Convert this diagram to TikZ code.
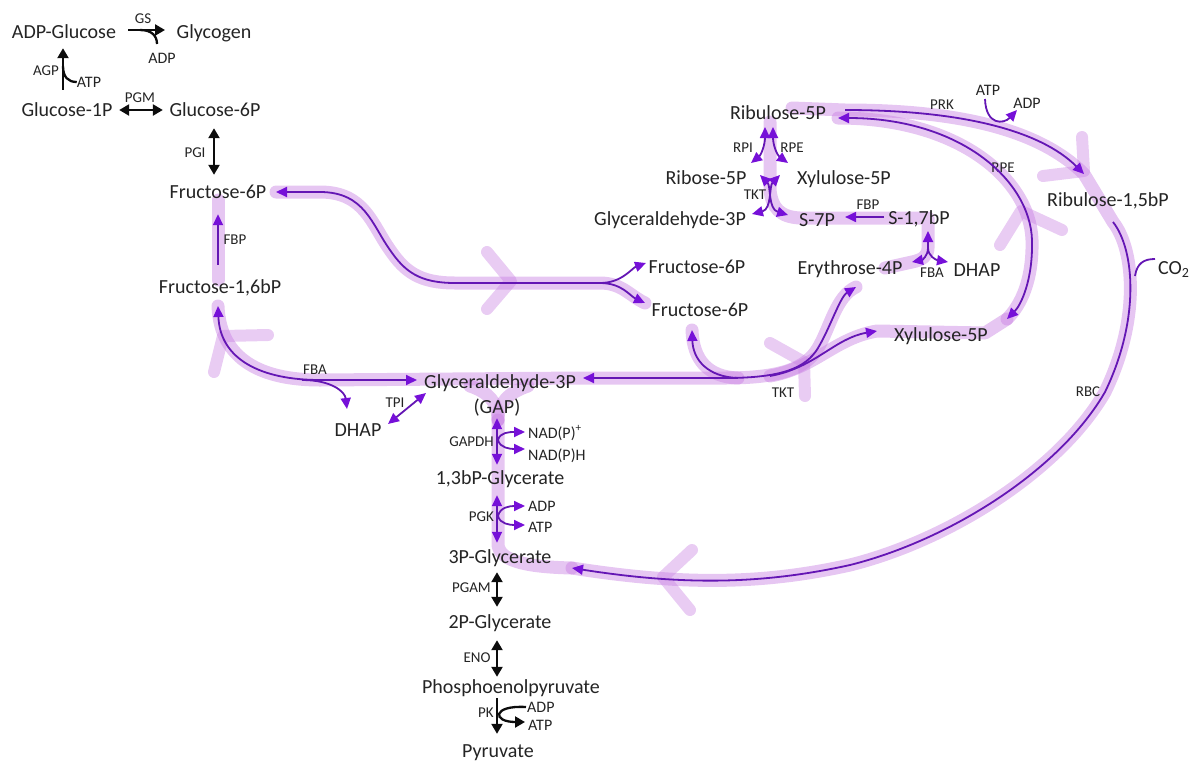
\documentclass[tikz,border=0pt]{standalone}
\usepackage{fontspec}
\setmainfont{Carlito}
\usetikzlibrary{arrows.meta,calc}
\pgfdeclarelayer{background}
\pgfsetlayers{background,main}
\definecolor{vio}{RGB}{100,22,180}
\definecolor{viotip}{RGB}{118,16,216}
\definecolor{glowc}{RGB}{200,128,226}
\definecolor{ink}{RGB}{36,36,36}
\definecolor{blk}{RGB}{12,12,12}
\tikzset{
  met/.style={font=\fontsize{20}{22}\selectfont, text=ink, inner sep=1pt, text height=13pt, text depth=0pt},
  enz/.style={font=\fontsize{15}{17}\selectfont, text=ink, inner sep=0pt, text height=9.7pt, text depth=0pt},
  cof/.style={font=\fontsize{16}{18}\selectfont, text=ink, inner sep=0pt, text height=10.3pt, text depth=0pt},
  vt/.tip={Triangle[length=11pt,width=10pt,color=viotip]},
  bt/.tip={Triangle[length=10pt,width=11pt,color=blk]},
  vl/.style={draw=vio, line width=1.8pt},
  bl/.style={draw=blk, line width=2.3pt},
  glow/.style={draw=glowc, line width=13pt, line cap=round, line join=round, opacity=0.45},
  chev/.style={draw=glowc, line width=12pt, line cap=round, line join=round, opacity=0.4},
}
\begin{document}
\begin{tikzpicture}[x=1pt,y=-1pt]
\path[use as bounding box] (0,0) rectangle (1196,761);

% ---------- metabolites ----------
\node[met] (adpg)  at (64,32)   {ADP-Glucose};
\node[met] (glyco) at (214,32)  {Glycogen};
\node[met] (g1p)   at (67,110)  {Glucose-1P};
\node[met] (g6p)   at (215,110) {Glucose-6P};
\node[met] (f6pa)  at (218,192) {Fructose-6P};
\node[met] (fbp)   at (220,287) {Fructose-1,6bP};
\node[met] (gap)   at (500,382) {Glyceraldehyde-3P};
\node[met] (gapb)  at (497,407) {(GAP)};
\node[met] (dhapa) at (358,430) {DHAP};
\node[met] (bpg)   at (500,478) {1,3bP-Glycerate};
\node[met] (tpg)   at (500,557) {3P-Glycerate};
\node[met] (twopg) at (500,622) {2P-Glycerate};
\node[met] (pep)   at (511,687) {Phosphoenolpyruvate};
\node[met] (pyr)   at (498,751) {Pyruvate};
\node[met] (ru5p)  at (778,113) {Ribulose-5P};
\node[met] (r5p)   at (706,178) {Ribose-5P};
\node[met] (xu5pa) at (844,178) {Xylulose-5P};
\node[met] (gapc)  at (670,219) {Glyceraldehyde-3P};
\node[met] (s7p)   at (817,220) {S-7P};
\node[met] (sbp)   at (919,218) {S-1,7bP};
\node[met] (f6pb)  at (697,267) {Fructose-6P};
\node[met] (f6pc)  at (700,310) {Fructose-6P};
\node[met] (e4p)   at (850,268) {Erythrose-4P};
\node[met] (dhapb) at (977,270) {DHAP};
\node[met] (xu5pb) at (941,335) {Xylulose-5P};
\node[met] (rubp)  at (1108,200) {Ribulose-1,5bP};
\node[met, anchor=west] (co2) at (1157,268) {CO\textsubscript{2}};

% ---------- enzymes ----------
\node[enz] (gs)     at (143,19)  {GS};
\node[enz] (agp)    at (46,71)   {AGP};
\node[enz] (pgm)    at (140,98)  {PGM};
\node[enz] (pgi)    at (195,153) {PGI};
\node[enz] (fbpase) at (235,240) {FBP};
\node[enz] (fbaa)   at (315,370) {FBA};
\node[enz] (tpi)    at (395,403) {TPI};
\node[enz, anchor=east] (gapdh) at (494,442) {GAPDH};
\node[enz, anchor=east] (pgk)   at (494,517) {PGK};
\node[enz, anchor=east] (pgam)  at (491,588) {PGAM};
\node[enz] (eno)    at (477,658) {ENO};
\node[enz] (pk)     at (486,713) {PK};
\node[enz] (rpi)    at (743,148) {RPI};
\node[enz] (rpea)   at (792,148) {RPE};
\node[enz] (tkta)   at (755,195) {TKT};
\node[enz] (sbpase) at (868,205) {FBP};
\node[enz] (fbab)   at (932,273) {FBA};
\node[enz] (prk)    at (942,105) {PRK};
\node[enz] (rpeb)   at (1003,168) {RPE};
\node[enz] (tktb)   at (783,393) {TKT};
\node[enz] (rbc)    at (1088,392) {RBC};

% ---------- cofactors ----------
\node[cof] (adpa) at (162,58) {ADP};
\node[cof] (atpa) at (89,82)  {ATP};
\node[cof, anchor=west] (nadp)  at (528,433) {NAD(P)\textsuperscript{+}};
\node[cof, anchor=west] (nadph) at (528,455) {NAD(P)H};
\node[cof, anchor=west] (adpb)  at (528,506) {ADP};
\node[cof, anchor=west] (atpb)  at (528,527) {ATP};
\node[cof, anchor=west] (adpc)  at (527,707) {ADP};
\node[cof, anchor=west] (atpc)  at (528,725) {ATP};
\node[cof] (atpd) at (988,90)  {ATP};
\node[cof] (adpd) at (1027,103) {ADP};

% ---------- junction and end points ----------
\coordinate (agpj) at (59,66);
\coordinate (gsj)  at (140,30);
\coordinate (gsx)  at (157,44);
\coordinate (f6aE) at (276,192);
\coordinate (fork) at (600,283);
\coordinate (f6bT) at (646,263);
\coordinate (f6cT) at (645,303);
\coordinate (fbT)  at (218,306);
\coordinate (gapW) at (417,380);
\coordinate (fbaj) at (302,380);
\coordinate (dhT)  at (347,409);
\coordinate (tpiA) at (388,424);
\coordinate (tpiB) at (426,393);
\coordinate (gapE) at (583,378);
\coordinate (e4T)  at (856,287);
\coordinate (tktj) at (770,376);
\coordinate (xuT)  at (877,331);
\coordinate (f6j)  at (738,378);
\coordinate (f6cB) at (692,330);
\coordinate (gdj)  at (498,440);
\coordinate (nadT) at (525,432);
\coordinate (nhT)  at (525,449);
\coordinate (pgkj) at (498,516);
\coordinate (adpT) at (525,506);
\coordinate (atpT) at (525,525);
\coordinate (pkT)  at (525,722);
\coordinate (rpiA) at (765,127);
\coordinate (rpiB) at (751,163);
\coordinate (rpeA) at (773,127);
\coordinate (rpeB) at (788,163);
\coordinate (tkR)  at (760,175);
\coordinate (tkX)  at (780,175);
\coordinate (tkS)  at (788,215);
\coordinate (tkG)  at (752,214);
\coordinate (fbaT) at (928,231);
\coordinate (fbaj2) at (928,248);
\coordinate (fbaL) at (912,262);
\coordinate (fbaR) at (948,262);
\coordinate (prkS) at (845,110);
\coordinate (prkT) at (1084,174);
\coordinate (atpS) at (985,99);
\coordinate (adpE) at (1017,110);
\coordinate (rpeS) at (838,118);
\coordinate (rpeT) at (1007,319);
\coordinate (rbcS) at (1113,222);
\coordinate (rbcT) at (572,568);
\coordinate (co2j) at (1135,276);
\coordinate (co2e) at (1155,259);

% ---------- highlighted cycle ----------
\begin{pgfonlayer}{background}
  \path[glow] (f6aE) -- (320,192) .. controls (365,192) and (372,225) .. (390,250)
     .. controls (405,272) and (420,283) .. (455,283) -- (fork)
     .. controls (622,283) and (630,296) .. (f6cT);
  \path[glow] (218,200) -- (218,280);
  \path[glow] (fbT) .. controls (220,360) and (262,380) .. (320,380) -- (gapE) -- (725,378)
     .. controls (782,378) and (806,368) .. (818,348) .. controls (830,328) and (836,296) .. (e4T);
  \path[glow] (tktj) .. controls (815,368) and (835,338) .. (xuT) -- (985,333) -- (rpeT);
  \path[glow] (f6j) .. controls (708,377) and (693,360) .. (f6cB);
  \path[glow] (470,386) .. controls (488,392) and (498,402) .. (498,420);
  \path[glow] (528,386) .. controls (510,392) and (498,402) .. (498,420);
  \path[glow] (498,420) -- (498,545) .. controls (500,562) and (530,567) .. (rbcT);
  \path[glow] (770,122) -- (770,190) .. controls (772,208) and (780,217) .. (800,218) -- (928,218)
     -- (fbaj2) .. controls (928,256) and (922,260) .. (fbaL) -- (885,268);
  \path[glow] (792,108) -- (prkS) .. controls (960,110) and (1040,130) .. (prkT) -- (rbcS)
     .. controls (1135,250) and (1140,320) .. (1105,392) .. controls (1060,470) and (950,540) .. (850,565)
     .. controls (760,585) and (680,585) .. (rbcT);
  \path[glow] (rpeS) .. controls (960,118) and (1030,180) .. (1032,240)
     .. controls (1033,280) and (1021,305) .. (rpeT);
  % direction chevrons
  \path[chev] (487,252) -- (511,281) -- (487,309);
  \path[chev] (214,372) -- (223,336) -- (268,335);
  \path[chev] (770,343) -- (804,362) -- (805,396);
  \path[chev] (1082,137) -- (1084,171) -- (1043,176);
  \path[chev] (1000,245) -- (1021,211) -- (1062,230);
  \path[chev] (692,550) -- (663,577) -- (690,610);
\end{pgfonlayer}

% ---------- glycogen / hexose reactions (black) ----------
\draw[bl, -bt, shorten <=11pt, shorten >=10.5pt] ([yshift=2pt]adpg.east) -- ([yshift=2pt]glyco.west);
\draw[bl] (gsj) .. controls (152,30) and (157,36) .. (gsx);
\draw[bl, -bt, shorten <=12.5pt, shorten >=8.5pt] ([xshift=-4pt]g1p.north) -- ([xshift=-4pt]g1p.north |- adpg.south);
\draw[bl] ([xshift=4pt]agpj) .. controls (63,77) and (68,82) .. (atpa.west);
\draw[bl, bt-bt, shorten <=5.5pt, shorten >=5.5pt] (g1p.east) -- (g6p.west);
\draw[bl, bt-bt, shorten <=10.5pt, shorten >=9.5pt] ([xshift=-1pt]g6p.south) -- ([xshift=-1pt]g6p.south |- f6pa.north);

% ---------- lower glycolysis ----------
\draw[vl, vt-vt, shorten <=3.5pt, shorten >=5.5pt] (gapb.south) -- (gapb.south |- bpg.north);
\draw[vl, -vt] (gdj) .. controls (500,432) and (510,432) .. (nadT);
\draw[vl, -vt] (gdj) .. controls (500,448) and (510,449) .. (nhT);
\draw[vl, vt-vt, shorten <=9.5pt, shorten >=6.5pt] (gapb.south |- bpg.south) -- (gapb.south |- tpg.north);
\draw[vl, -vt] (pgkj) .. controls (500,507) and (510,506) .. (adpT);
\draw[vl, -vt] (pgkj) .. controls (500,524) and (510,525) .. (atpT);
\draw[bl, bt-bt, shorten <=7.5pt, shorten >=7.5pt] (gapb.south |- tpg.south) -- (gapb.south |- twopg.north);
\draw[bl, bt-bt, shorten <=10.5pt, shorten >=2.5pt] (gapb.south |- twopg.south) -- (gapb.south |- pep.north);
\draw[bl, -bt, shorten <=3.5pt, shorten >=9.5pt] (gapb.south |- pep.south) -- (gapb.south |- pyr.north);
\draw[bl, -bt] ([xshift=-1pt]adpc.west) .. controls (492,705) and (492,722) .. (pkT);

% ---------- gluconeogenic / regeneration branch ----------
\draw[vl, -vt, shorten <=14.5pt, shorten >=14.5pt] ([xshift=-2pt]fbp.north) -- ([xshift=-2pt]fbp.north |- f6pa.south);
\draw[vl, vt-vt] (fbT) .. controls (220,360) and (262,380) .. (320,380) -- (gapW);
\draw[vl, -vt] (fbaj) .. controls (332,380) and (345,392) .. (dhT);
\draw[vl, vt-vt] (tpiA) -- (tpiB);

\draw[vl, vt-] (f6aE) -- (320,192) .. controls (365,192) and (372,225) .. (390,250)
   .. controls (405,272) and (420,283) .. (455,283) -- (fork);
\draw[vl, -vt] (fork) .. controls (622,283) and (632,268) .. (f6bT);
\draw[vl, -vt] (fork) .. controls (622,283) and (630,296) .. (f6cT);

\draw[vl, vt-vt] (gapE) -- (725,378) .. controls (782,378) and (806,368) .. (818,348)
   .. controls (830,328) and (840,297) .. (e4T);
\draw[vl, -vt] (tktj) .. controls (815,368) and (835,338) .. (xuT);
\draw[vl, -vt] (f6j) .. controls (708,377) and (693,360) .. (f6cB);

% ---------- pentose phosphate cluster ----------
\draw[vl, vt-vt] (rpiA) .. controls (765,145) and (761,155) .. (rpiB);
\draw[vl, vt-vt] (rpeA) .. controls (773,145) and (777,155) .. (rpeB);
\draw[vl, vt-vt] (tkR) .. controls (771,186) and (768,209) .. (tkS);
\draw[vl, vt-vt] (tkX) .. controls (769,186) and (772,209) .. (tkG);
\draw[vl, -vt, shorten <=3pt, shorten >=9pt] ([yshift=1pt]sbp.west) -- ([yshift=1pt]sbp.west -| s7p.east);
\draw[vl, vt-] (fbaT) -- (fbaj2);
\draw[vl, -vt] (fbaj2) .. controls (928,256) and (922,260) .. (fbaL);
\draw[vl, -vt] (fbaj2) .. controls (928,256) and (936,260) .. (fbaR);

% ---------- PRK, RPE and RuBisCO ----------
\draw[vl, -vt] (prkS) .. controls (960,110) and (1040,130) .. (prkT);
\draw[vl, -vt] (atpS) .. controls (986,126) and (1004,124) .. (adpE);
\draw[vl, vt-vt] (rpeS) .. controls (960,118) and (1030,180) .. (1032,240)
   .. controls (1033,280) and (1021,305) .. (rpeT);
\draw[vl, -vt] (rbcS) .. controls (1135,250) and (1140,320) .. (1105,392)
   .. controls (1060,470) and (950,540) .. (850,565)
   .. controls (760,585) and (680,585) .. (rbcT);
\draw[vl] (co2j) .. controls (1137,263) and (1144,259) .. (co2e);
\end{tikzpicture}
\end{document}
